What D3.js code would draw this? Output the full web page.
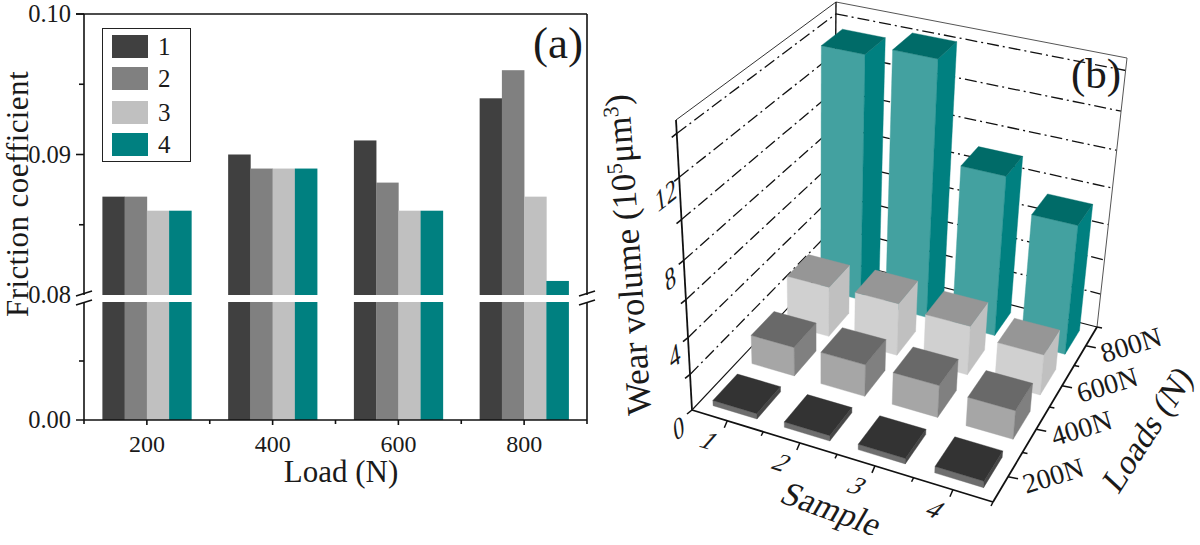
<!DOCTYPE html>
<html><head><meta charset="utf-8">
<script src="https://cdn.jsdelivr.net/npm/d3@7"></script>
<style>html,body{margin:0;padding:0;background:#fff}svg{display:block}text{font-family:"Liberation Serif",serif;fill:#1a1a1a}</style>
</head><body><svg id="c" width="1200" height="545"></svg>
<script>
// ---- data: panel (a)
const loads=[200,400,600,800];
const samples=["1","2","3","4"];
const friction1=[0.087,0.090,0.091,0.094];
const friction2=[0.087,0.089,0.088,0.096];
const friction3=[0.086,0.089,0.086,0.087];
const friction4=[0.086,0.089,0.086,0.081];
const barColors=["#404040","#808080","#c0c0c0","#008080"];
const yTicksUpper=[0.08,0.09,0.10];
const yMinorUpper=[0.085,0.095];
const xMajor=[200,400,600,800];
const xMinor=[100,300,500,700,900];
// ---- data: panel (b), wear volume per load row, samples 1-4
const wear200=[0.3,0.3,0.3,0.35];
const wear400=[1.65,1.8,1.8,1.6];
const wear600=[2.9,3.0,2.8,2.3];
const wear800=[13.6,14.1,9.0,7.3];
const loadLabels=["200N","400N","600N","800N"];
const zTicks=[0,2,4,6,8,10,12,14];
const zLabels=[0,4,8,12];

const svg=d3.select("#c");
const line=(g,x1,y1,x2,y2,w=1.6,col="#111",dash=null)=>g.append("line").attr("x1",x1).attr("y1",y1).attr("x2",x2).attr("y2",y2).attr("stroke",col).attr("stroke-width",w).attr("stroke-dasharray",dash);

// ===== panel (a)
const A=svg.append("g");
const x=d3.scaleLinear().domain([100,900]).range([84,587]);
const yL=d3.scaleLinear().domain([0,0.08]).range([420,302]);
const yU=d3.scaleLinear().domain([0.08,0.10]).range([295,14]);
const barW=35.3;
const series=[friction1,friction2,friction3,friction4];
series.forEach((vals,k)=>{
  vals.forEach((v,i)=>{
    const w=barW*0.63;
    const bx=x(loads[i])+(k-2)*w;
    A.append("rect").attr("x",bx).attr("y",yL(0.08)).attr("width",w+0.3).attr("height",yL(0)-yL(0.08)).attr("fill",barColors[k]);
    A.append("rect").attr("x",bx).attr("y",yU(v)).attr("width",w+0.3).attr("height",yU(0.08)-yU(v)).attr("fill",barColors[k]);
  });
});
// axes
line(A,76,14,587,14);
line(A,84,14,84,295);line(A,84,302,84,420);
line(A,587,14,587,295);line(A,587,302,587,420);
line(A,76,420,587,420);
yTicksUpper.forEach(v=>{
  if(v!==0.08) line(A,76,yU(v),84,yU(v));
  A.append("text").attr("x",71).attr("y",yU(v)+8).attr("text-anchor","end").attr("font-size",24.5).text(v.toFixed(2));
});
yMinorUpper.forEach(v=>line(A,79,yU(v),84,yU(v)));
line(A,79,yL(0.04),84,yL(0.04));
A.append("text").attr("x",71).attr("y",yL(0)+8).attr("text-anchor","end").attr("font-size",24.5).text("0.00");
xMajor.forEach(v=>{line(A,x(v),420,x(v),425);
  A.append("text").attr("x",x(v)).attr("y",452).attr("text-anchor","middle").attr("font-size",24).text(v);});
xMinor.forEach(v=>line(A,x(v),420,x(v),424));
[84,587].forEach(bx=>{
  line(A,bx-8,296,bx+8,291);line(A,bx-8,305,bx+8,300);
});
A.append("text").attr("transform","translate(28,194) rotate(-90)").attr("text-anchor","middle").attr("font-size",31).attr("letter-spacing",0.4).text("Friction coefficient");
A.append("text").attr("x",341).attr("y",482).attr("text-anchor","middle").attr("font-size",31).text("Load (N)");
A.append("text").attr("x",558).attr("y",58).attr("text-anchor","middle").attr("font-size",45).text("(a)");
// legend
A.append("rect").attr("x",102.5).attr("y",28.5).attr("width",88).attr("height",133).attr("fill","#fff").attr("stroke","#222").attr("stroke-width",1);
const legY=[35,67,101,133];
samples.forEach((s,k)=>{
  A.append("rect").attr("x",112).attr("y",legY[k]).attr("width",36).attr("height",23).attr("fill",barColors[k]);
  A.append("text").attr("x",158).attr("y",legY[k]+20).attr("font-size",25).text(s).attr("text-anchor","start");
});

// ===== panel (b)
const B=svg.append("g");
function quad(p){ // unit square -> quad homography
  const [[x0,y0],[x1,y1],[x2,y2],[x3,y3]]=p;
  const dx1=x1-x2,dx2=x3-x2,sx=x0-x1+x2-x3,dy1=y1-y2,dy2=y3-y2,sy=y0-y1+y2-y3;
  const den=dx1*dy2-dx2*dy1;
  const g=(sx*dy2-dx2*sy)/den,h=(dx1*sy-sx*dy1)/den;
  const a=x1-x0+g*x1,b=x3-x0+h*x3,d=y1-y0+g*y1,e=y3-y0+h*y3;
  return (u,v)=>{const w=g*u+h*v+1;return [(a*u+b*v+x0)/w,(d*u+e*v+y0)/w];};
}
const floorH=quad([[692,410],[993,502],[1097,327],[834,259]]);
const topH=quad([[676,120],[1016,198],[1127,58],[836,2]]);
const sS=d3.scaleLinear().domain([0.5,4.5]).range([0,1]);
const lS=d3.scaleLinear().domain([0.5,4.5]).range([0,1]);
const zS=d3.scaleLinear().domain([0,14.6]).range([0,1]);
const zk=0.88;
function P(s,l,z){
  const u=sS(s),v=lS(l),t=zS(z),tt=t*zk/(1-(1-zk)*t);
  const a=floorH(u,v),b=topH(u,v);
  return [a[0]+(b[0]-a[0])*tt,a[1]+(b[1]-a[1])*tt];
}
const seg=(g,p,q,w,col,dash)=>line(g,p[0],p[1],q[0],q[1],w,col,dash);
const S0=0.5,S1=4.5,L0=0.5,L1=4.5,Z1=14.6;
// walls
const dd="12 4 2 4";
zTicks.slice(1).forEach(z=>{
  seg(B,P(S0,L0,z),P(S0,L1,z),1.3,"#111",dd);
  seg(B,P(S0,L1,z),P(S1,L1,z),1.3,"#111",dd);
});
seg(B,P(S0,L0,Z1),P(S0,L1,Z1),1,"#333");
seg(B,P(S0,L1,Z1),P(S1,L1,Z1),1,"#555");
seg(B,P(S0,L1,0),P(S0,L1,Z1),1.4,"#111");
seg(B,P(S1,L1,0),P(S1,L1,Z1),1,"#555");
seg(B,P(S0,L0,0),P(S0,L1,0),1.1,"#111");
seg(B,P(S0,L1,0),P(S1,L1,0),1.1,"#111");
// bars
const rows=[wear200,wear400,wear600,wear800];
const facePal=[
 {top:"#333333",front:"#6e6e6e",right:"#474747"},
 {top:"#696969",front:"#a6a6a6",right:"#808080"},
 {top:"#969696",front:"#d0d0d0",right:"#c0c0c0"},
 {top:"#006b68",front:"#43a1a0",right:"#008080"}];
const hs=0.31,hl=0.31;
const poly=(pts,c)=>B.append("polygon").attr("points",pts.map(p=>p.join(",")).join(" ")).attr("fill",c).attr("stroke",c).attr("stroke-width",0.4);
[3,2,1,0].forEach(j=>{
  [0,1,2,3].forEach(i=>{
    const s=i+1,l=j+1,z=rows[j][i],c=facePal[j];
    const a=s-hs,b=s+hs,m=l-hl,n=l+hl;
    poly([P(a,m,0),P(b,m,0),P(b,m,z),P(a,m,z)],c.front);
    poly([P(b,m,0),P(b,n,0),P(b,n,z),P(b,m,z)],c.right);
    poly([P(a,m,z),P(b,m,z),P(b,n,z),P(a,n,z)],c.top);
  });
});
// axes
seg(B,P(S0,L0,0),P(S0,L0,Z1),1.8,"#111");
seg(B,P(S0,L0,0),P(S1,L0,0),1.8,"#111");
seg(B,P(S1,L0,0),P(S1,L1,0),1.8,"#111");
function skewText(px,py,str,rot,skew,size,anchor="middle"){
  return B.append("text").attr("transform",`translate(${px},${py}) rotate(${rot}) skewX(${skew})`).attr("text-anchor",anchor).attr("font-size",size).text(str);
}
zTicks.forEach(z=>{
  const p=P(S0,L0,z);
  line(B,p[0]-5,p[1]+4,p[0],p[1],1.6);
});
zLabels.forEach(z=>{
  const p=P(S0,L0,z);
  skewText(p[0]-12,p[1]+28,z,-38,-30,26);
});
d3.range(1,4.6,0.5).forEach(s=>{
  const p=P(s,L0,0);
  const major=Number.isInteger(s);
  line(B,p[0],p[1],p[0]+(major?-3:-2),p[1]+(major?7:4),1.5);
});
samples.forEach((t,i)=>{
  const p=P(i+1,L0,0);
  skewText(p[0]-24,p[1]+27,t,17,-24,26);
});
d3.range(1,4.6,0.5).forEach(l=>{
  const p=P(S1,l,0);
  const major=Number.isInteger(l);
  line(B,p[0],p[1],p[0]+(major?10:5),p[1]+(major?2:1),1.5);
});
loadLabels.forEach((t,j)=>{
  const p=P(S1,j+1,0);
  skewText(p[0]+48,p[1]+8,t,-17,0,28);
});
skewText(826,519,"Sample",20,-10,34);
skewText(1156,437,"Loads (N)",-57,-10,34);
// y title
const yt=B.append("text").attr("transform","translate(640,254) rotate(-94)").attr("text-anchor","middle").attr("font-size",35);
yt.append("tspan").text("Wear volume (10");
yt.append("tspan").attr("font-size",22).attr("dy",-12).text("5");
yt.append("tspan").attr("font-size",35).attr("dy",12).text("μm");
yt.append("tspan").attr("font-size",22).attr("dy",-12).text("3");
yt.append("tspan").attr("font-size",35).attr("dy",12).text(")");
B.append("text").attr("x",1096).attr("y",88).attr("text-anchor","middle").attr("font-size",43).text("(b)");
</script></body></html>
